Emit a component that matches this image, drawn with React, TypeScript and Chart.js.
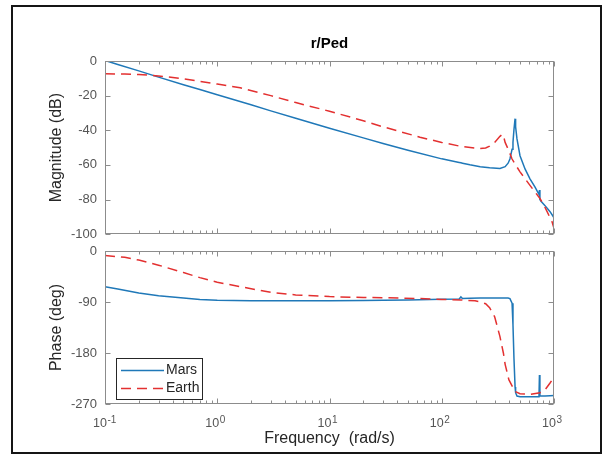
import React, { useEffect, useRef } from 'react';
import { Chart, registerables } from 'chart.js';

Chart.register(...registerables);

const FONT = "'Liberation Sans', Arial, Helvetica, 'DejaVu Sans', sans-serif";

const chartTitle = 'r/Ped';
const magAxisTitle = 'Magnitude (dB)';
const phaseAxisTitle = 'Phase (deg)';
const freqAxisTitle = 'Frequency  (rad/s)';
const seriesNames = ['Mars', 'Earth'];

const xTickValues = [0.1, 1, 10, 100, 1000];
const xTickBase = '10';
const xTickExponents = ['-1', '0', '1', '2', '3'];
const magTicks = [-100, -80, -60, -40, -20, 0];
const phaseTicks = [-270, -180, -90, 0];

const marsFreq = [0.1, 0.13, 0.2, 0.3, 0.5, 0.7, 1, 2, 3, 5, 10, 20, 30, 50, 100, 143, 148, 153, 178, 220, 267, 330, 367, 390, 405, 423, 431, 440, 450, 455, 468, 498, 552, 611, 678, 720, 735, 742, 749, 766, 832, 922, 1000];
const marsMag = [0.3, -2, -5.7, -9.3, -13.7, -16.5, -19.5, -25.3, -28.8, -33.1, -38.8, -44.4, -47.6, -51.5, -56.5, -58.6, -58.8, -59, -59.9, -61, -61.7, -62, -61, -59, -56.6, -51, -47, -39.5, -33.3, -38, -45, -54.7, -62.3, -68, -72.8, -76, -77, -74.5, -80, -81, -83.5, -87, -90.5];
const marsPhase = [-63, -67, -74, -79, -83, -85.5, -87, -88, -88, -88, -88, -87.5, -87, -86.5, -85, -84.5, -81, -84, -83.5, -83, -83, -83, -83, -83, -84, -92, -130, -190, -240, -250, -256, -257, -257, -257, -257, -257, -257, -219, -256, -256, -256, -255.5, -255];

const earthFreq = [0.1, 0.15, 0.2, 0.3, 0.5, 0.7, 1, 1.6, 3, 5, 10, 20, 30, 64, 100, 148, 198, 218, 246, 267, 296, 330, 347, 354, 367, 396, 423, 450, 498, 611, 750, 832, 922, 959, 1000];
const earthMag = [-7.4, -7.5, -7.8, -8.6, -10.3, -11.8, -13.3, -15.5, -20, -24, -29, -34.5, -38, -44, -47, -49.3, -50.3, -50.5, -50.2, -49.2, -47, -43.5, -42.3, -43, -47, -51.8, -56.6, -59.5, -64, -71.8, -79.4, -84.5, -90.5, -92.7, -96.6];
const earthPhase = [-8, -11, -16, -25, -38, -47, -55, -63, -73, -77.5, -80.5, -82, -82.5, -84, -85.5, -86.5, -88, -89.5, -93, -100, -116, -151, -172, -180, -200, -227, -238, -248, -252, -253, -250, -245, -233, -228, -220];

const BLUE = '#1f78b8';
const RED = '#e33030';
const TICK_COLOR = '#555555';
const LABEL_COLOR = '#262626';
const FRAME_COLOR = '#8c8c8c';
const X_LABEL_OFFSET = -5;
const X_TICK_SIZE = 12.5;
const X_EXP_SIZE = 10;

const framePlugin = {
  id: 'matlabFrame',
  afterDraw(chart: any) {
    const { ctx, chartArea: a, scales } = chart;
    const xs = scales.x;
    const ys = scales.y;
    const L = Math.round(a.left) + 0.5;
    const R = Math.round(a.right) - 0.5;
    const T = Math.round(a.top) + 0.5;
    const B = Math.round(a.bottom) - 0.5;
    ctx.save();
    ctx.strokeStyle = FRAME_COLOR;
    ctx.lineWidth = 1;
    ctx.beginPath();
    const lo = Math.log10(xs.min);
    const hi = Math.log10(xs.max);
    for (let d = Math.floor(lo); d <= Math.ceil(hi); d++) {
      for (let m = 1; m <= 9; m++) {
        const v = m * Math.pow(10, d);
        if (v < xs.min * 0.999 || v > xs.max * 1.001) continue;
        const len = m === 1 ? 5 : 3;
        const px = Math.round(xs.getPixelForValue(v)) + 0.5;
        ctx.moveTo(px, B);
        ctx.lineTo(px, B - len);
        ctx.moveTo(px, T);
        ctx.lineTo(px, T + len);
      }
    }
    ys.ticks.forEach((t: any) => {
      const py = Math.round(ys.getPixelForValue(t.value)) + 0.5;
      ctx.moveTo(L, py);
      ctx.lineTo(L + 5, py);
      ctx.moveTo(R, py);
      ctx.lineTo(R - 5, py);
    });
    ctx.stroke();
    ctx.strokeRect(L, T, R - L, B - T);
    ctx.restore();
  },
};

// draws the exponent part of each "10^n" x tick label, next to the "10" drawn by Chart.js
const exponentPlugin = {
  id: 'tickExponents',
  afterDraw(chart: any) {
    const { ctx, chartArea: a, scales } = chart;
    const xs = scales.x;
    ctx.save();
    ctx.font = `${X_TICK_SIZE}px ${FONT}`;
    const wBase = ctx.measureText(xTickBase).width;
    ctx.font = `${X_EXP_SIZE}px ${FONT}`;
    ctx.fillStyle = TICK_COLOR;
    ctx.textAlign = 'left';
    ctx.textBaseline = 'alphabetic';
    xs.ticks.forEach((t: any) => {
      const idx = xTickValues.findIndex((v) => Math.abs(v - t.value) < 1e-9 * Math.max(1, v));
      if (idx < 0) return;
      const px = xs.getPixelForValue(t.value);
      const x = px + X_LABEL_OFFSET + wBase / 2 + 0.5;
      ctx.fillText(xTickExponents[idx], x, a.bottom + 19);
    });
    ctx.restore();
  },
};

const legendPlugin = {
  id: 'matlabLegend',
  afterDraw(chart: any) {
    const { ctx, chartArea: a } = chart;
    const left = a.left + 11;
    const bottom = a.bottom - 5;
    const w = 86;
    const h = 41;
    const top = bottom - h;
    ctx.save();
    ctx.fillStyle = '#ffffff';
    ctx.fillRect(left, top, w, h);
    ctx.strokeStyle = LABEL_COLOR;
    ctx.lineWidth = 1;
    ctx.strokeRect(Math.round(left) + 0.5, Math.round(top) + 0.5, w, h);
    chart.data.datasets.forEach((ds: any, i: number) => {
      const y = Math.round(top + 12 + i * 17.5) + 0.5;
      ctx.beginPath();
      ctx.strokeStyle = ds.borderColor;
      ctx.lineWidth = ds.borderWidth;
      ctx.setLineDash(ds.borderDash || []);
      ctx.moveTo(left + 5, y);
      ctx.lineTo(left + 48, y);
      ctx.stroke();
      ctx.setLineDash([]);
      ctx.fillStyle = LABEL_COLOR;
      ctx.font = `14px ${FONT}`;
      ctx.textBaseline = 'middle';
      ctx.textAlign = 'left';
      ctx.fillText(ds.label, left + 50, y);
    });
    ctx.restore();
  },
};

function xScale(showLabels: boolean, height: number, withTitle: boolean) {
  return {
    type: 'logarithmic',
    min: 0.1,
    max: 1000,
    afterBuildTicks: (s: any) => {
      s.ticks = xTickValues.map((v) => ({ value: v }));
    },
    afterFit: (s: any) => {
      s.height = height;
    },
    ticks: {
      display: showLabels,
      autoSkip: false,
      maxRotation: 0,
      minRotation: 0,
      padding: 12,
      labelOffset: X_LABEL_OFFSET,
      color: TICK_COLOR,
      font: { family: FONT, size: X_TICK_SIZE },
      callback: () => xTickBase,
    },
    title: {
      display: withTitle,
      text: freqAxisTitle,
      color: LABEL_COLOR,
      font: { family: FONT, size: 16 },
      padding: { top: 0, bottom: 7.9 },
    },
    grid: { display: false, drawTicks: false },
    border: { display: false },
  };
}

function yScale(min: number, max: number, ticks: number[], title: string) {
  return {
    type: 'linear',
    min,
    max,
    afterBuildTicks: (s: any) => {
      s.ticks = ticks.map((v) => ({ value: v }));
    },
    afterFit: (s: any) => {
      s.width = 65;
    },
    ticks: {
      padding: 8,
      color: TICK_COLOR,
      font: { family: FONT, size: 13 },
      callback: (v: any) => String(v),
    },
    title: {
      display: true,
      text: title,
      color: LABEL_COLOR,
      font: { family: FONT, size: 16 },
      padding: { top: 7.4, bottom: 0 },
    },
    grid: { display: false, drawTicks: false },
    border: { display: false },
  };
}

function datasets(marsY: number[], earthY: number[]) {
  return [
    {
      label: seriesNames[0],
      data: marsFreq.map((f, i) => ({ x: f, y: marsY[i] })),
      borderColor: BLUE,
      backgroundColor: BLUE,
      borderWidth: 1.5,
      pointRadius: 0,
      tension: 0,
      fill: false,
      order: 1,
    },
    {
      label: seriesNames[1],
      data: earthFreq.map((f, i) => ({ x: f, y: earthY[i] })),
      borderColor: RED,
      backgroundColor: RED,
      borderWidth: 1.5,
      borderDash: [10, 6],
      pointRadius: 0,
      tension: 0,
      fill: false,
      order: 0,
    },
  ];
}

export default function App() {
  const topRef = useRef<HTMLCanvasElement>(null);
  const botRef = useRef<HTMLCanvasElement>(null);

  useEffect(() => {
    const top = new Chart(topRef.current as HTMLCanvasElement, {
      type: 'line',
      data: { datasets: datasets(marsMag, earthMag) as any },
      options: {
        animation: false,
        responsive: false,
        events: [],
        layout: { padding: { left: 40, right: 59, top: 0, bottom: 0 } },
        plugins: {
          legend: { display: false },
          tooltip: { enabled: false },
          title: {
            display: true,
            fullSize: false,
            text: chartTitle,
            color: '#000000',
            font: { family: FONT, size: 15, weight: 'bold' },
            padding: { top: 35, bottom: 8 },
          },
        },
        scales: {
          x: xScale(false, 14, false) as any,
          y: yScale(-100, 0, magTicks, magAxisTitle) as any,
        },
      } as any,
      plugins: [framePlugin],
    });

    const bot = new Chart(botRef.current as HTMLCanvasElement, {
      type: 'line',
      data: { datasets: datasets(marsPhase, earthPhase) as any },
      options: {
        animation: false,
        responsive: false,
        events: [],
        layout: { padding: { left: 40, right: 59, top: 21, bottom: 0 } },
        plugins: {
          legend: { display: false },
          tooltip: { enabled: false },
          title: { display: false },
        },
        scales: {
          x: xScale(true, 52, true) as any,
          y: yScale(-270, 0, phaseTicks, phaseAxisTitle) as any,
        },
      } as any,
      plugins: [framePlugin, legendPlugin, exponentPlugin],
    });

    return () => {
      top.destroy();
      bot.destroy();
    };
  }, []);

  return (
    <div
      style={{
        position: 'absolute',
        left: 0,
        top: 0,
        width: 613,
        height: 456,
        background: '#ffffff',
        overflow: 'hidden',
      }}
    >
      <div
        style={{
          position: 'absolute',
          left: 11,
          top: 5,
          width: 591,
          height: 449,
          boxSizing: 'border-box',
          border: '2px solid #151515',
        }}
      />
      <canvas
        ref={topRef}
        width={613}
        height={250}
        style={{ position: 'absolute', left: 0, top: 0, width: 613, height: 250 }}
      />
      <canvas
        ref={botRef}
        width={613}
        height={226}
        style={{ position: 'absolute', left: 0, top: 230, width: 613, height: 226 }}
      />
    </div>
  );
}
